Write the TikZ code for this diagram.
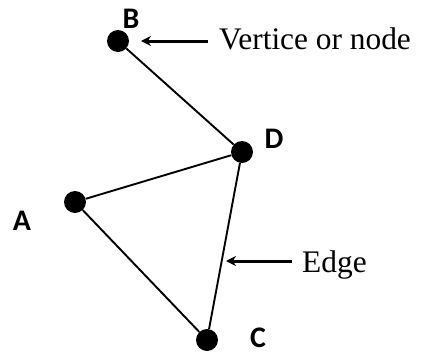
\documentclass[tikz,border=0pt]{standalone}
\usepackage{fontspec}
\setmainfont{Liberation Serif}
\newfontfamily\lblfont{Carlito}
\usetikzlibrary{arrows.meta}
\begin{document}
\begin{tikzpicture}[x=1bp,y=-1bp,
  vtx/.style={circle,fill=black,inner sep=0pt,minimum size=22bp},
  vlabel/.style={font={\fontsize{30}{30}\selectfont\lblfont\bfseries},inner sep=0pt,text depth=0pt,anchor=base},
  edgeline/.style={line width=1.9bp},
  callout/.style={line width=3bp,-{Stealth[length=10bp,width=10bp]}},
  ctext/.style={font={\fontsize{31.5}{31.5}\selectfont},inner sep=0pt,anchor=base west}]
\useasboundingbox (0,0) rectangle (422,355);
\node[vtx] (B) at (118,41) {};
\node[vtx] (D) at (242,152) {};
\node[vtx] (A) at (75,202) {};
\node[vtx] (C) at (207,340) {};
\draw[edgeline] (B) -- (D);
\draw[edgeline] (D) -- (A);
\draw[edgeline] (A) -- (C);
\draw[edgeline] (C) -- (D);
\node[vlabel] (lB) at (131,28) {B};
\node[vlabel] (lD) at (274,148) {D};
\node[vlabel] (lA) at (22,230) {A};
\node[vlabel] (lC) at (258,347) {C};
\node[ctext] (tV) at (219,49) {Vertice or node};
\node[ctext] (tE) at (302,272) {Edge};
\coordinate (pB) at (141,41);
\coordinate (pE) at (226,261);
\draw[callout] (208,41) coordinate (sB) -- (pB);
\draw[callout] (292,261) coordinate (sE) -- (pE);
\end{tikzpicture}
\end{document}
